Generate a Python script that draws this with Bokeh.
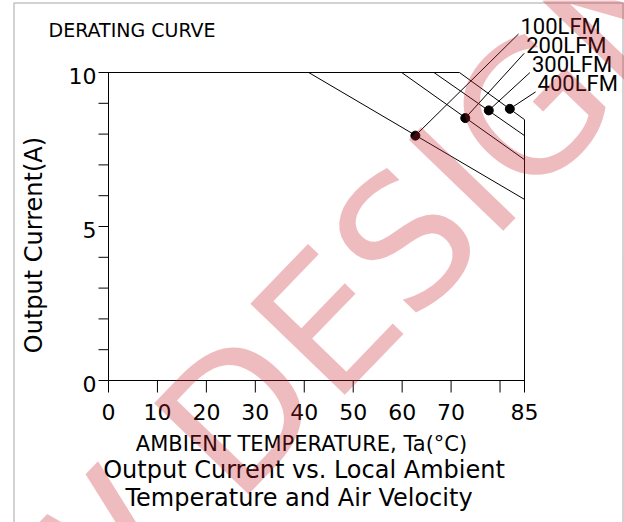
from bokeh.plotting import figure
from bokeh.models import Range1d, Label, BoxAnnotation, ColumnDataSource
from bokeh.core.properties import value
from bokeh.embed import file_html
from bokeh.resources import INLINE

# ---- derating data -------------------------------------------------------
airflow = ["100LFM", "200LFM", "300LFM", "400LFM"]
knee_temp = [40.9, 59.9, 66.5, 71.7]            # °C where derating starts
current_at_max_temp = [5.88, 7.17, 7.95, 8.47]  # A at 85 °C
full_current = 10.0
max_temp = 85

# highlighted points on each curve
marker_temp = [62.7, 72.9, 77.7, 82.0]
marker_current = [7.95, 8.52, 8.77, 8.82]

# axis ticks
x_ticks = [0, 10, 20, 30, 40, 50, 60, 70, 80, 85]
x_tick_labels = ["0", "10", "20", "30", "40", "50", "60", "70", "", "85"]
y_ticks = [0, 1, 2, 3, 4, 5, 6, 7, 8, 9, 10]
y_tick_labels = ["0", "", "", "", "", "5", "", "", "", "", "10"]

# ---- page geometry (pixels) ----------------------------------------------
W, H = 624, 522
ORIGIN_X, ORIGIN_Y = 108, 380     # where 0 °C / 0 A sit on the page
AXIS_X_PX, AXIS_Y_PX = 416, 308   # pixel length of 0..85 °C and 0..10 A


def px_x(px):
    return (px - ORIGIN_X) * max_temp / AXIS_X_PX


def px_y(py):
    return (ORIGIN_Y - py) * full_current / AXIS_Y_PX


def dx(px):
    return px * max_temp / AXIS_X_PX


def dy(px):
    return px * full_current / AXIS_Y_PX


FONT = "DejaVu Sans"

# the frame fills the whole page so that titles and the frame box can be drawn
# around the axes with the same scales
p = figure(width=W, height=H, x_range=Range1d(px_x(0), px_x(W)),
           y_range=Range1d(px_y(H), px_y(0)), min_border=0,
           x_axis_type=None, y_axis_type=None, output_backend="svg",
           toolbar_location=None, background_fill_color="white",
           border_fill_color="white")
p.title.visible = False
p.outline_line_color = None
p.grid.visible = False

# ---- axes ----------------------------------------------------------------
p.segment(x0=[0, 0], y0=[0, 0], x1=[max_temp, 0], y1=[0, full_current],
          line_color="black", line_width=1)
p.segment(x0=x_ticks, y0=[0] * len(x_ticks), x1=x_ticks,
          y1=[-dy(12)] * len(x_ticks), line_color="black", line_width=1)
p.segment(x0=[0] * len(y_ticks), y0=y_ticks, x1=[-dx(10)] * len(y_ticks),
          y1=y_ticks, line_color="black", line_width=1)
p.text(x=x_ticks, y=[-dy(31)] * len(x_ticks), text=x_tick_labels,
       text_font=value(FONT), text_font_size="22px", text_color="black",
       text_align="center", text_baseline="alphabetic")
p.text(x=[-dx(12)] * len(y_ticks), y=[t - dy(3) for t in y_ticks],
       text=y_tick_labels, text_font=value(FONT), text_font_size="22px",
       text_color="black", text_align="right", text_baseline="alphabetic")

# ---- derating curves -----------------------------------------------------
curve_xs = [[0, k, max_temp, max_temp] for k in knee_temp]
curve_ys = [[full_current, full_current, c, 0] for c in current_at_max_temp]
p.multi_line(xs=curve_xs, ys=curve_ys, line_color="black", line_width=1)

# curve labels stacked at the upper right, with leader lines to the markers
label_x = [px_x(520 + 5.7 * i) for i in range(len(airflow))]
label_y = [px_y(25.5 + 19.3 * i) for i in range(len(airflow))]
src = ColumnDataSource(dict(x=label_x, y=label_y, text=airflow,
                            mx=marker_temp, my=marker_current,
                            lx=[x - dx(2) for x in label_x],
                            ly=[y - dy(8) for y in label_y]))
p.segment(x0="mx", y0="my", x1="lx", y1="ly", source=src,
          line_color="black", line_width=1)
p.scatter(x="mx", y="my", source=src, size=9, color="black")
p.text(x="x", y="y", text="text", source=src, text_font=value("Roboto"),
       text_font_size="22px", text_color="black", text_align="left",
       text_baseline="alphabetic")

# ---- titles --------------------------------------------------------------
titles = ColumnDataSource(dict(
    x=[px_x(48), px_x(301), px_x(303.5), px_x(298.5)],
    y=[px_y(29), px_y(443), px_y(469.5), px_y(497.5)],
    text=["DERATING CURVE", "AMBIENT TEMPERATURE, Ta(°C)",
          "Output Current vs. Local Ambient", "Temperature and Air Velocity"],
    size=["19px", "21px", "24px", "24px"],
    align=["left", "center", "center", "center"],
))
p.text(x="x", y="y", text="text", source=titles, text_font=value(FONT),
       text_font_size="size", text_align="align", text_baseline="alphabetic",
       text_color="black")
p.text(x=[px_x(33.5)], y=[px_y(244.5)], text=["Output Current(A)"], angle=90,
       angle_units="deg", text_font=value(FONT), text_font_size="24px",
       text_align="center", text_baseline="alphabetic", text_color="black")

# page frame
p.add_layout(BoxAnnotation(left=px_x(13.5), right=px_x(622.5), top=px_y(2.5),
                           bottom=px_y(560), fill_color=None, line_color="#3a3a3a",
                           line_width=1.5))

# watermark
p.add_layout(Label(x=px_x(-145), y=px_y(811), text="NEW DESIGN", angle=46,
                   angle_units="deg", text_font=FONT, text_font_size="180px",
                   text_color="#C8202C", text_alpha=0.3, text_align="left",
                   text_baseline="alphabetic"))

open("out.html", "w").write(file_html(p, INLINE))
